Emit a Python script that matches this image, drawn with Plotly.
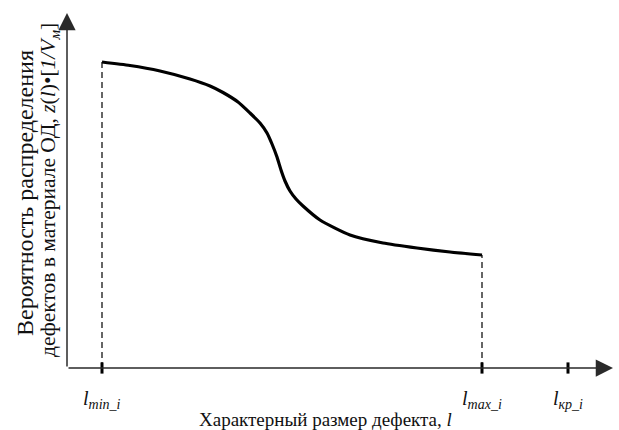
import plotly.graph_objects as go

# Curve: distribution probability vs defect size (arbitrary units)
curve_x = [3.5, 6.3, 9.3, 12.3, 14.3, 15.6, 17.1, 18.3, 19.3, 20.0, 20.5, 21.0,
           21.4, 21.8, 22.3, 22.9, 23.6, 25.3, 28.3, 31.6, 35.0, 38.3, 41.5]
curve_y = [30.6, 30.25, 29.7, 28.9, 28.2, 27.55, 26.6, 25.5, 24.5, 23.5, 22.4, 21.1,
           19.8, 18.7, 17.7, 16.9, 16.2, 14.8, 13.3, 12.5, 12.0, 11.6, 11.3]

tick_vals = [3.5, 41.5, 50.1]
tick_labels = ["<i>l</i><sub><i>min_i</i></sub>",
               "<i>l</i><sub><i>max_i</i></sub>",
               "<i>l</i><sub><i>кр_i</i></sub>"]

x_max = 54.6
y_max = 35.5

FONT = "Liberation Serif, Times New Roman, serif"

fig = go.Figure()

# dashed drop lines
for xv, yv in [(curve_x[0], curve_y[0]), (curve_x[-1], curve_y[-1])]:
    fig.add_trace(go.Scatter(x=[xv, xv], y=[0, yv], mode="lines",
                             line=dict(color="black", width=1.2, dash="6px,4px"),
                             hoverinfo="skip", showlegend=False))

fig.add_trace(go.Scatter(x=curve_x, y=curve_y, mode="lines",
                         line=dict(color="black", width=3.2, shape="spline", smoothing=0.6),
                         showlegend=False))

# tick marks
fig.add_trace(go.Scatter(x=tick_vals, y=[0]*len(tick_vals), mode="markers",
                         marker=dict(symbol="line-ns", size=8,
                                     line=dict(color="black", width=3)),
                         hoverinfo="skip", showlegend=False, cliponaxis=False))

annotations = []
# axes arrows
for tip in [(x_max, 0), (0, y_max)]:
    annotations.append(dict(x=tip[0], y=tip[1], ax=0, ay=0, xref="x", yref="y",
                            axref="x", ayref="y", showarrow=True, arrowhead=2,
                            arrowsize=2.3, arrowwidth=1.5, arrowcolor="#2a2a2a",
                            text="", standoff=0))

for xv, lab in zip(tick_vals, tick_labels):
    annotations.append(dict(x=xv, y=0, xref="x", yref="y", text=lab, showarrow=False,
                            xanchor="center", yanchor="top", yshift=-17,
                            font=dict(family=FONT, size=20, color="#111")))

annotations.append(dict(x=0.474, y=-0.146, xref="paper", yref="paper",
                        text="Характерный размер дефекта, <i>l</i>", showarrow=False,
                        xanchor="center", yanchor="middle",
                        font=dict(family=FONT, size=19, color="#111")))

y_title_lines = ["Вероятность распределения",
                 "дефектов в материале ОД, "
                 "<i>z</i>(<i>l</i>)•[<i>1/V</i><sub><i>м</i></sub>]"]
for line, xp, yp, fs in zip(y_title_lines, [25, 49], [193, 190], [24, 21.5]):
    annotations.append(dict(x=(xp - 67) / 546, y=(368 - yp) / 355,
                            xref="paper", yref="paper", text=line,
                            showarrow=False, textangle=-90,
                            xanchor="center", yanchor="middle",
                            font=dict(family=FONT, size=fs, color="#111")))

fig.update_layout(
    width=619, height=430,
    margin=dict(l=67, r=6, t=13, b=62),
    paper_bgcolor="white", plot_bgcolor="white",
    xaxis=dict(range=[0, x_max], visible=False, fixedrange=True),
    yaxis=dict(range=[0, y_max], visible=False, fixedrange=True),
    annotations=annotations,
    showlegend=False,
)

fig.write_html("out.html")
